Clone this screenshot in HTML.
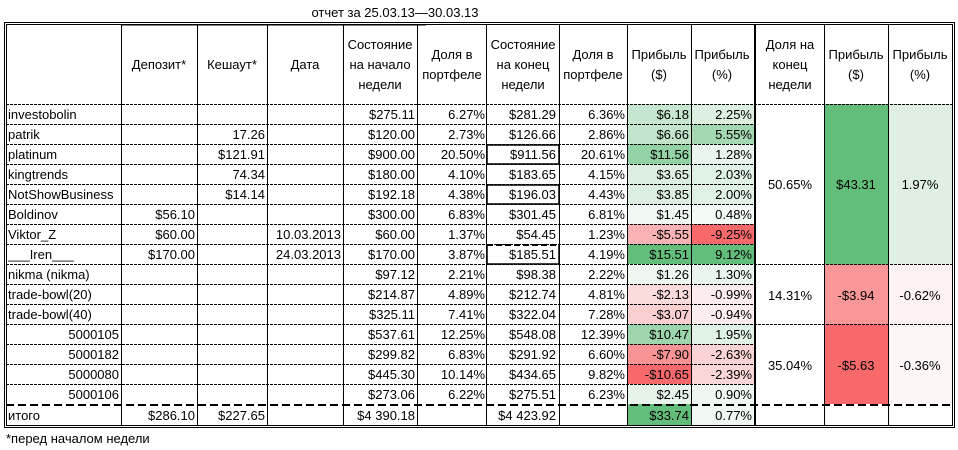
<!DOCTYPE html>
<html><head><meta charset="utf-8"><style>
html,body{margin:0;padding:0;background:#fff;}
svg{display:block;font-family:"Liberation Sans","DejaVu Sans",sans-serif;font-size:13px;}
</style></head><body>
<svg width="958" height="450" viewBox="0 0 958 450">
<!-- fills col Прибыль $ (627-691) -->
<g>
<rect x="627" y="104" width="64" height="20" fill="#c6e6cf"/>
<rect x="627" y="124" width="64" height="20" fill="#c2e4cb"/>
<rect x="627" y="144" width="64" height="20" fill="#93d2a5"/>
<rect x="627" y="164" width="64" height="20" fill="#dcefe1"/>
<rect x="627" y="184" width="64" height="20" fill="#dbeee0"/>
<rect x="627" y="204" width="64" height="20" fill="#f1f8f3"/>
<rect x="627" y="224" width="64" height="20" fill="#f9b3b4"/>
<rect x="627" y="244" width="64" height="20" fill="#63be7b"/>
<rect x="627" y="264" width="64" height="20" fill="#eef7f0"/>
<rect x="627" y="284" width="64" height="20" fill="#fbdcdd"/>
<rect x="627" y="304" width="64" height="20" fill="#facfd0"/>
<rect x="627" y="324" width="64" height="20" fill="#9dd5ad"/>
<rect x="627" y="344" width="64" height="20" fill="#f99394"/>
<rect x="627" y="364" width="64" height="20" fill="#f8696b"/>
<rect x="627" y="384" width="64" height="20" fill="#e6f3e9"/>
<rect x="627" y="404" width="64" height="22" fill="#63be7b"/>
</g>
<g>
<rect x="691" y="104" width="63" height="20" fill="#dcefe1"/>
<rect x="691" y="124" width="63" height="20" fill="#a4d8b2"/>
<rect x="691" y="144" width="63" height="20" fill="#eaf5ed"/>
<rect x="691" y="164" width="63" height="20" fill="#dff1e4"/>
<rect x="691" y="184" width="63" height="20" fill="#dff1e4"/>
<rect x="691" y="204" width="63" height="20" fill="#f4faf6"/>
<rect x="691" y="224" width="63" height="20" fill="#f8696b"/>
<rect x="691" y="244" width="63" height="20" fill="#63be7b"/>
<rect x="691" y="264" width="63" height="20" fill="#eaf5ed"/>
<rect x="691" y="284" width="63" height="20" fill="#fceced"/>
<rect x="691" y="304" width="63" height="20" fill="#fcedee"/>
<rect x="691" y="324" width="63" height="20" fill="#e0f1e5"/>
<rect x="691" y="344" width="63" height="20" fill="#fad3d4"/>
<rect x="691" y="364" width="63" height="20" fill="#fad6d7"/>
<rect x="691" y="384" width="63" height="20" fill="#eef7f0"/>
<rect x="691" y="404" width="63" height="22" fill="#f0f8f2"/>
</g>
<rect x="824" y="104" width="64" height="160" fill="#63be7b"/>
<rect x="888" y="104" width="64" height="160" fill="#dff0e3"/>
<rect x="824" y="264" width="64" height="60" fill="#f99798"/>
<rect x="888" y="264" width="64" height="60" fill="#fdf2f3"/>
<rect x="824" y="324" width="64" height="80" fill="#f8696b"/>
<rect x="888" y="324" width="64" height="80" fill="#fdf6f6"/>

<!-- horizontal dashed lines left part -->
<g stroke="#000" stroke-width="1" stroke-dasharray="3,1">
<line x1="6" y1="104.5" x2="953" y2="104.5"/>
<line x1="6" y1="124.5" x2="755" y2="124.5"/>
<line x1="6" y1="144.5" x2="755" y2="144.5"/>
<line x1="6" y1="164.5" x2="755" y2="164.5"/>
<line x1="6" y1="184.5" x2="755" y2="184.5"/>
<line x1="6" y1="204.5" x2="755" y2="204.5"/>
<line x1="6" y1="224.5" x2="755" y2="224.5"/>
<line x1="6" y1="244.5" x2="755" y2="244.5"/>
<line x1="6" y1="264.5" x2="953" y2="264.5"/>
<line x1="6" y1="284.5" x2="755" y2="284.5"/>
<line x1="6" y1="304.5" x2="755" y2="304.5"/>
<line x1="6" y1="324.5" x2="953" y2="324.5"/>
<line x1="6" y1="344.5" x2="755" y2="344.5"/>
<line x1="6" y1="364.5" x2="755" y2="364.5"/>
<line x1="6" y1="384.5" x2="755" y2="384.5"/>
</g>
<line x1="6" y1="405" x2="953" y2="405" stroke="#000" stroke-width="2" stroke-dasharray="8,4"/>
<!-- verticals -->
<g stroke="#000" stroke-width="1">
<line x1="121.5" y1="25" x2="426" y2="25" transform="" />
<line x1="121.5" y1="25" x2="121.5" y2="426"/>
<line x1="197.5" y1="25" x2="197.5" y2="426"/>
<line x1="267.5" y1="25" x2="267.5" y2="426"/>
<line x1="343.5" y1="25" x2="343.5" y2="426"/>
<line x1="417.5" y1="25" x2="417.5" y2="426"/>
<line x1="486.5" y1="25" x2="486.5" y2="426"/>
<line x1="559.5" y1="25" x2="559.5" y2="426"/>
<line x1="627.5" y1="25" x2="627.5" y2="426"/>
<line x1="691.5" y1="25" x2="691.5" y2="426"/>
<line x1="824.5" y1="25" x2="824.5" y2="426"/>
<line x1="888.5" y1="25" x2="888.5" y2="426"/>
</g>
<line x1="755" y1="25" x2="755" y2="426" stroke="#000" stroke-width="2"/>
<!-- bold boxes -->
<g fill="none" stroke="#000" stroke-width="1.5">
<rect x="487" y="145" width="72" height="19"/>
<rect x="487" y="185" width="72" height="19"/>
<line x1="487" y1="245" x2="487" y2="264"/>
<line x1="559" y1="245" x2="559" y2="264"/>
<line x1="487" y1="264" x2="559" y2="264"/>
</g>
<line x1="487" y1="245" x2="559" y2="245" stroke="#000" stroke-width="2" stroke-dasharray="6,3"/>
<!-- outer double border -->
<g fill="none" stroke="#000" stroke-width="1">
<rect x="4.5" y="22.5" width="950" height="405"/>
<rect x="6.5" y="24.5" width="946" height="401"/>
</g>

<text x="395" y="17" text-anchor="middle">отчет за  25.03.13—30.03.13</text>

<!-- headers -->
<g text-anchor="middle">
<text x="159" y="69">Депозит*</text>
<text x="232" y="69">Кешаут*</text>
<text x="305" y="69">Дата</text>
<text x="380" y="49">Состояние</text><text x="380" y="69">на начало</text><text x="380" y="89">недели</text>
<text x="452" y="59">Доля в</text><text x="452" y="79">портфеле</text>
<text x="523" y="49">Состояние</text><text x="523" y="69">на конец</text><text x="523" y="89">недели</text>
<text x="593" y="59">Доля в</text><text x="593" y="79">портфеле</text>
<text x="659" y="59">Прибыль</text><text x="659" y="79">($)</text>
<text x="722" y="59">Прибыль</text><text x="722" y="79">(%)</text>
<text x="790" y="49">Доля  на</text><text x="790" y="69">конец</text><text x="790" y="89">недели</text>
<text x="856" y="59">Прибыль</text><text x="856" y="79">($)</text>
<text x="920" y="59">Прибыль</text><text x="920" y="79">(%)</text>
<text x="790" y="189">50.65%</text><text x="856" y="189">$43.31</text><text x="920" y="189">1.97%</text>
<text x="790" y="300">14.31%</text><text x="856" y="300">-$3.94</text><text x="920" y="300">-0.62%</text>
<text x="790" y="370">35.04%</text><text x="856" y="370">-$5.63</text><text x="920" y="370">-0.36%</text>
</g>

<!-- names -->
<g>
<text x="8" y="119">investobolin</text>
<text x="8" y="139">patrik</text>
<text x="8" y="159">platinum</text>
<text x="8" y="179">kingtrends</text>
<text x="8" y="199">NotShowBusiness</text>
<text x="8" y="219">Boldinov</text>
<text x="8" y="239">Viktor_Z</text>
<text x="8" y="259">___Iren___</text>
<text x="8" y="279">nikma (nikma)</text>
<text x="8" y="299">trade-bowl(20)</text>
<text x="8" y="319">trade-bowl(40)</text>
<text x="119" y="339" text-anchor="end">5000105</text>
<text x="119" y="359" text-anchor="end">5000182</text>
<text x="119" y="379" text-anchor="end">5000080</text>
<text x="119" y="399" text-anchor="end">5000106</text>
<text x="8" y="420">итого</text>
</g>

<g text-anchor="end">
<!-- Депозит -->
<text x="195" y="219">$56.10</text>
<text x="195" y="239">$60.00</text>
<text x="195" y="259">$170.00</text>
<text x="195" y="420">$286.10</text>
<!-- Кешаут -->
<text x="265" y="139">17.26</text>
<text x="265" y="159">$121.91</text>
<text x="265" y="179">74.34</text>
<text x="265" y="199">$14.14</text>
<text x="265" y="420">$227.65</text>
<!-- Дата -->
<text x="341" y="239">10.03.2013</text>
<text x="341" y="259">24.03.2013</text>
<!-- start -->
<text x="415" y="119">$275.11</text>
<text x="415" y="139">$120.00</text>
<text x="415" y="159">$900.00</text>
<text x="415" y="179">$180.00</text>
<text x="415" y="199">$192.18</text>
<text x="415" y="219">$300.00</text>
<text x="415" y="239">$60.00</text>
<text x="415" y="259">$170.00</text>
<text x="415" y="279">$97.12</text>
<text x="415" y="299">$214.87</text>
<text x="415" y="319">$325.11</text>
<text x="415" y="339">$537.61</text>
<text x="415" y="359">$299.82</text>
<text x="415" y="379">$445.30</text>
<text x="415" y="399">$273.06</text>
<text x="415" y="420">$4 390.18</text>
<!-- share1 -->
<text x="485" y="119">6.27%</text>
<text x="485" y="139">2.73%</text>
<text x="485" y="159">20.50%</text>
<text x="485" y="179">4.10%</text>
<text x="485" y="199">4.38%</text>
<text x="485" y="219">6.83%</text>
<text x="485" y="239">1.37%</text>
<text x="485" y="259">3.87%</text>
<text x="485" y="279">2.21%</text>
<text x="485" y="299">4.89%</text>
<text x="485" y="319">7.41%</text>
<text x="485" y="339">12.25%</text>
<text x="485" y="359">6.83%</text>
<text x="485" y="379">10.14%</text>
<text x="485" y="399">6.22%</text>
<!-- end -->
<text x="556" y="119">$281.29</text>
<text x="556" y="139">$126.66</text>
<text x="556" y="159">$911.56</text>
<text x="556" y="179">$183.65</text>
<text x="556" y="199">$196.03</text>
<text x="556" y="219">$301.45</text>
<text x="556" y="239">$54.45</text>
<text x="556" y="259">$185.51</text>
<text x="556" y="279">$98.38</text>
<text x="556" y="299">$212.74</text>
<text x="556" y="319">$322.04</text>
<text x="556" y="339">$548.08</text>
<text x="556" y="359">$291.92</text>
<text x="556" y="379">$434.65</text>
<text x="556" y="399">$275.51</text>
<text x="556" y="420">$4 423.92</text>
<!-- share2 -->
<text x="625" y="119">6.36%</text>
<text x="625" y="139">2.86%</text>
<text x="625" y="159">20.61%</text>
<text x="625" y="179">4.15%</text>
<text x="625" y="199">4.43%</text>
<text x="625" y="219">6.81%</text>
<text x="625" y="239">1.23%</text>
<text x="625" y="259">4.19%</text>
<text x="625" y="279">2.22%</text>
<text x="625" y="299">4.81%</text>
<text x="625" y="319">7.28%</text>
<text x="625" y="339">12.39%</text>
<text x="625" y="359">6.60%</text>
<text x="625" y="379">9.82%</text>
<text x="625" y="399">6.23%</text>
<!-- p$ -->
<text x="689" y="119">$6.18</text>
<text x="689" y="139">$6.66</text>
<text x="689" y="159">$11.56</text>
<text x="689" y="179">$3.65</text>
<text x="689" y="199">$3.85</text>
<text x="689" y="219">$1.45</text>
<text x="689" y="239">-$5.55</text>
<text x="689" y="259">$15.51</text>
<text x="689" y="279">$1.26</text>
<text x="689" y="299">-$2.13</text>
<text x="689" y="319">-$3.07</text>
<text x="689" y="339">$10.47</text>
<text x="689" y="359">-$7.90</text>
<text x="689" y="379">-$10.65</text>
<text x="689" y="399">$2.45</text>
<text x="689" y="420">$33.74</text>
<!-- p% -->
<text x="752" y="119">2.25%</text>
<text x="752" y="139">5.55%</text>
<text x="752" y="159">1.28%</text>
<text x="752" y="179">2.03%</text>
<text x="752" y="199">2.00%</text>
<text x="752" y="219">0.48%</text>
<text x="752" y="239">-9.25%</text>
<text x="752" y="259">9.12%</text>
<text x="752" y="279">1.30%</text>
<text x="752" y="299">-0.99%</text>
<text x="752" y="319">-0.94%</text>
<text x="752" y="339">1.95%</text>
<text x="752" y="359">-2.63%</text>
<text x="752" y="379">-2.39%</text>
<text x="752" y="399">0.90%</text>
<text x="752" y="420">0.77%</text>
</g>

<text x="6" y="443">*перед началом недели</text>
</svg>
</body></html>
